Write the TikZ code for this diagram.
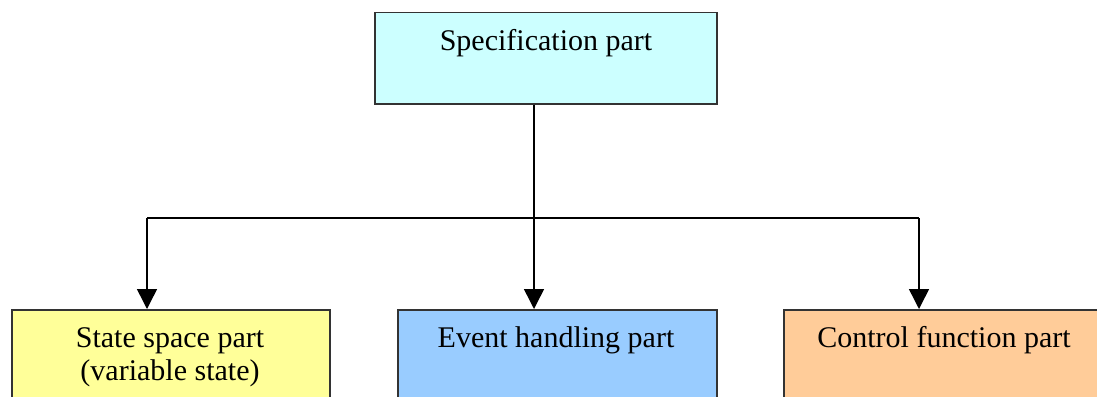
\documentclass[tikz,border=0pt]{standalone}
\usepackage{fontspec}
\setmainfont{Liberation Serif}
\usetikzlibrary{arrows.meta}
\definecolor{boxcyan}{HTML}{CCFFFF}
\definecolor{boxyellow}{HTML}{FFFF99}
\definecolor{boxblue}{HTML}{99CCFF}
\definecolor{boxorange}{HTML}{FFCC99}
\definecolor{edge}{HTML}{333333}
\tikzset{
  block/.style={draw=edge, line width=1.5pt, rectangle, inner sep=0pt, anchor=north west},
  lbl/.style={font=\fontsize{30}{33}\selectfont, align=center, anchor=base, inner sep=0pt},
  conn/.style={draw=black, line width=1.5pt},
  arr/.style={conn, -{Triangle[length=20pt,width=20pt]}},
}
\begin{document}
\begin{tikzpicture}[x=1pt,y=-1pt]
\useasboundingbox (0,0) rectangle (1097,396);
\clip (0,0) rectangle (1097,396);
\node[block, fill=boxcyan, minimum width=342pt, minimum height=91pt] (spec) at (374,12) {};
\node[block, fill=boxyellow, minimum width=318pt, minimum height=120pt] (state) at (11,309) {};
\node[block, fill=boxblue, minimum width=319pt, minimum height=120pt] (event) at (397,309) {};
\node[block, fill=boxorange, minimum width=330pt, minimum height=120pt] (ctrl) at (783,309) {};
\node[lbl] (spect) at (546,51) {Specification part};
\node[lbl] (statet) at (170,380) {State space part\\(variable state)};
\node[lbl] (eventt) at (556,347) {Event handling part};
\node[lbl] (ctrlt) at (944,347) {Control function part};
\coordinate (j) at (534,218);
\coordinate (jl) at (147,218);
\coordinate (jr) at (919,218);
\draw[conn] (spec.south -| j) -- (j);
\draw[conn] (jl) -- (jr);
\draw[arr] (jl) -- (jl |- state.north);
\draw[arr] (j) -- (j |- event.north);
\draw[arr] (jr) -- (jr |- ctrl.north);
\end{tikzpicture}
\end{document}
